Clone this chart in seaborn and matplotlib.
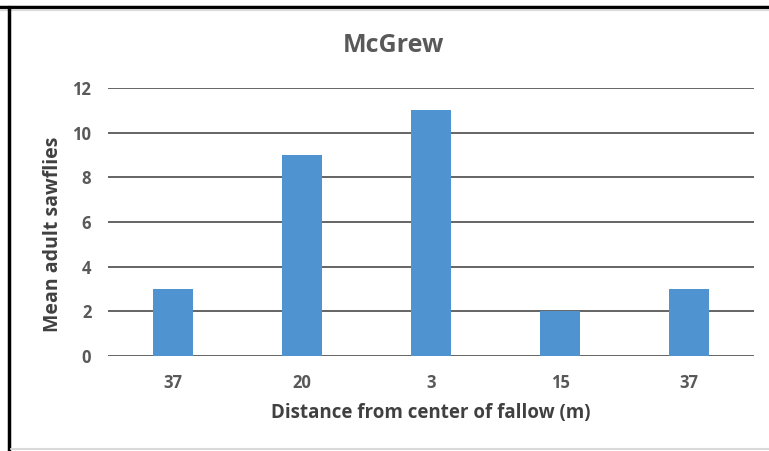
import matplotlib
matplotlib.use("Agg")
import matplotlib.pyplot as plt
import seaborn as sns
import pandas as pd
from matplotlib.lines import Line2D

# data
distance_labels = ["37", "20", "3", "15", "37"]
mean_sawflies = [3, 9, 11, 2, 3]
y_ticks = [0, 2, 4, 6, 8, 10, 12]

sns.set_style("white")
plt.rcParams["font.family"] = ["Open Sans", "DejaVu Sans"]

# positions are used for x because "37" appears twice
df = pd.DataFrame({"pos": list(range(len(distance_labels))), "value": mean_sawflies})

fig = plt.figure(figsize=(7.69, 4.51), dpi=100)
ax = fig.add_axes([0.1404, 0.2106, 0.840, 0.5944])

sns.barplot(data=df, x="pos", y="value", color="#4F94D0", saturation=1,
            width=0.31, linewidth=0, ax=ax, zorder=3)

ax.set_xlim(-0.5, 4.5)
ax.set_ylim(0, 12)
ax.set_yticks(y_ticks)
ax.set_xticks(range(len(distance_labels)))
ax.set_xticklabels(distance_labels)
ax.yaxis.grid(True, color="#3a3a3a", linewidth=1.1, zorder=0)
for s in ax.spines.values():
    s.set_visible(False)
ax.tick_params(axis="both", length=0, labelsize=12, labelcolor="#595959")
ax.tick_params(axis="x", pad=13)
ax.tick_params(axis="y", pad=12)
for t in ax.get_xticklabels() + ax.get_yticklabels():
    t.set_fontweight("bold")

ax.set_xlabel("Distance from center of fallow (m)", fontsize=13.5, fontweight="bold",
              color="#404040", labelpad=8)
ax.set_ylabel("Mean adult sawflies", fontsize=14, fontweight="bold",
              color="#404040")
ax.yaxis.set_label_coords(-0.07, 0.455)
fig.text(0.512, 0.90, "McGrew", ha="center", va="center", fontsize=18,
         fontweight="bold", color="#595959")

# frame around the chart like the screenshot
fig.add_artist(Line2D([0, 1], [1 - 7 / 451, 1 - 7 / 451], color="black", lw=2.5,
                      transform=fig.transFigure))
fig.add_artist(Line2D([0, 1], [1 - 10 / 451, 1 - 10 / 451], color="#d9d9d9", lw=1.5,
                      transform=fig.transFigure))
fig.add_artist(Line2D([9 / 769, 9 / 769], [0, 1 - 7 / 451], color="black", lw=2.5,
                      transform=fig.transFigure))
fig.add_artist(Line2D([11 / 769, 1], [2 / 451, 2 / 451], color="#d9d9d9", lw=1.5,
                      transform=fig.transFigure))

fig.savefig("out.png", dpi=100)
